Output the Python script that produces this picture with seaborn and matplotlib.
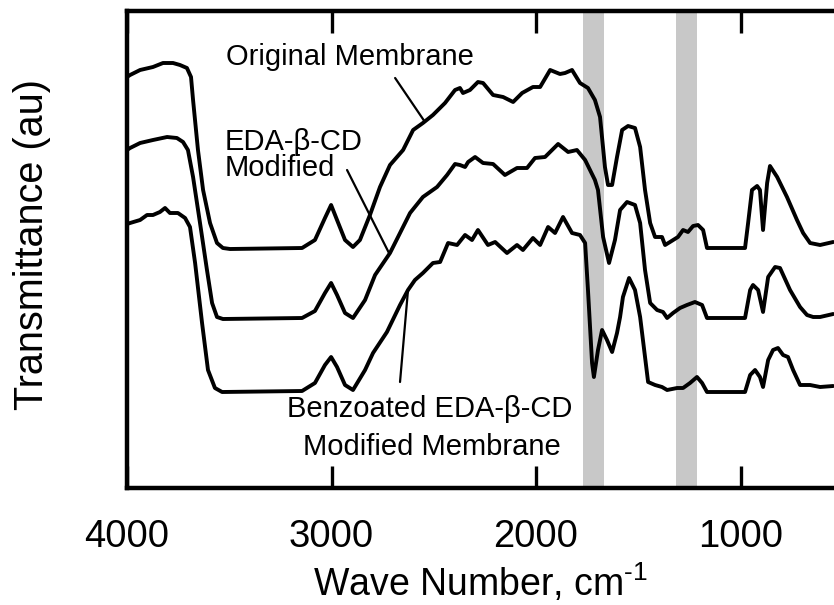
import matplotlib
matplotlib.use("Agg")
import matplotlib.pyplot as plt
import seaborn as sns
import pandas as pd

# ---------------- data ----------------
wn_original = [4000, 3985, 3936, 3873, 3824, 3775, 3741, 3707, 3687, 3677, 3653, 3628, 3594, 3560,
               3531, 3496, 3144, 3081, 3032, 3002, 2973, 2934, 2895, 2861, 2812, 2763, 2714, 2650,
               2601, 2553, 2504, 2445, 2396, 2372, 2357, 2323, 2284, 2259, 2210, 2161, 2112, 2068,
               2015, 1980, 1931, 1883, 1858, 1824, 1785, 1746, 1712, 1687, 1663, 1648, 1628, 1604,
               1579, 1550, 1516, 1491, 1467, 1442, 1418, 1384, 1369, 1345, 1306, 1281, 1257, 1232,
               1208, 1183, 1164, 978, 963, 944, 919, 905, 890, 870, 856, 821, 773, 724, 694, 660,
               611, 547]
tr_original = [411, 413, 418, 421, 425, 425, 423, 420, 411, 388, 338, 298, 265, 245,
               240, 239, 240, 248, 270, 283, 268, 248, 241, 248, 273, 301, 323, 338,
               358, 365, 373, 385, 398, 400, 395, 398, 406, 405, 393, 391, 386, 395,
               401, 401, 418, 414, 415, 418, 405, 400, 388, 371, 321, 303, 303, 331,
               358, 362, 360, 341, 298, 265, 251, 251, 243, 246, 251, 258, 256, 262,
               263, 258, 240, 240, 265, 298, 302, 298, 258, 305, 322, 311, 291, 268, 255, 245,
               243, 246]

wn_eda = [4000, 3985, 3936, 3873, 3804, 3756, 3726, 3702, 3677, 3643, 3609, 3584, 3560, 3531,
          3144, 3081, 3032, 3002, 2973, 2934, 2895, 2836, 2787, 2714, 2665, 2616, 2553, 2484,
          2435, 2396, 2372, 2347, 2332, 2298, 2259, 2210, 2152, 2093, 2044, 2005, 1956, 1892,
          1843, 1800, 1760, 1736, 1712, 1697, 1672, 1643, 1614, 1589, 1555, 1516, 1491, 1467,
          1442, 1408, 1379, 1359, 1330, 1296, 1262, 1223, 1188, 1164, 978, 953, 939, 914, 890,
          865, 831, 807, 758, 709, 675, 645, 611, 547]
tr_eda = [338, 340, 345, 348, 351, 350, 346, 338, 311, 265, 218, 185, 171, 169,
          170, 177, 195, 205, 193, 175, 170, 188, 213, 235, 255, 275, 291, 301,
          313, 324, 323, 321, 326, 331, 325, 324, 313, 320, 320, 330, 331, 344,
          336, 338, 328, 318, 308, 298, 251, 225, 248, 278, 286, 283, 265, 218,
          185, 178, 176, 170, 175, 180, 183, 186, 183, 170, 170, 198, 203, 198, 176,
          211, 221, 220, 198, 181, 173, 171, 171, 174]

wn_benz = [4000, 3985, 3936, 3902, 3873, 3839, 3814, 3790, 3751, 3716, 3692, 3667, 3633, 3604,
           3570, 3535, 3144, 3081, 3032, 3002, 2973, 2934, 2895, 2836, 2797, 2729, 2665, 2626,
           2592, 2553, 2504, 2469, 2430, 2386, 2347, 2313, 2284, 2235, 2200, 2142, 2093, 2064,
           2015, 1980, 1941, 1907, 1868, 1824, 1785, 1760, 1746, 1726, 1717, 1697, 1677, 1653,
           1628, 1604, 1589, 1575, 1545, 1516, 1491, 1467, 1452, 1418, 1384, 1359, 1310, 1281,
           1247, 1213, 1188, 1164, 978, 953, 929, 905, 890, 865, 841, 817, 792, 768, 743, 709,
           660, 611, 547]
tr_benz = [264, 265, 268, 273, 273, 276, 280, 275, 275, 270, 261, 225, 165, 118,
           100, 96, 97, 105, 123, 131, 121, 103, 98, 118, 135, 156, 183, 198,
           208, 215, 225, 226, 245, 243, 253, 248, 258, 243, 246, 235, 243, 238,
           250, 243, 261, 255, 271, 255, 253, 245, 198, 125, 111, 138, 158, 148,
           136, 155, 171, 191, 210, 198, 171, 131, 106, 103, 101, 98, 100, 100,
           105, 111, 105, 96, 96, 113, 118, 111, 101, 128, 138, 140, 133, 131, 118, 103,
           103, 101, 102]

bands = [(1770, 1668), (1315, 1213)]
xticks = [4000, 3000, 2000, 1000]

# ---------------- style ----------------
sns.set_theme(style="white")
plt.rcParams["font.family"] = ["Liberation Sans", "DejaVu Sans"]
plt.rcParams["mathtext.fontset"] = "custom"
plt.rcParams["mathtext.rm"] = "Liberation Sans"
plt.rcParams["mathtext.it"] = "Liberation Sans"

fig = plt.figure(figsize=(8.34, 6.05), dpi=100)
ax = fig.add_axes([127 / 834, 1 - 488 / 605, 1 - 127 / 834, (488 - 11) / 605])

for lo, hi in bands:
    ax.axvspan(hi, lo, color="#c8c8c8", lw=0, zorder=0)

for wn, tr in [(wn_original, tr_original), (wn_eda, tr_eda), (wn_benz, tr_benz)]:
    df = pd.DataFrame({"wn": wn, "tr": tr})
    sns.lineplot(data=df, x="wn", y="tr", color="black", lw=2.8, sort=False,
                 estimator=None, ax=ax, zorder=3)
for line in ax.get_lines():
    line.set_solid_joinstyle("round")
    line.set_solid_capstyle("round")

ax.set_xlim(4000, 543)
ax.set_ylim(0, 477)
ax.set_xticks(xticks)
ax.set_xticklabels([str(t) for t in xticks])
ax.set_yticks([])
ax.tick_params(axis="x", direction="in", top=True, bottom=True, length=16, width=2.4,
               labelsize=27.5, pad=22, color="black", labelcolor="black")
for side in ["left", "bottom", "top"]:
    ax.spines[side].set_linewidth(3.2)
    ax.spines[side].set_color("black")
ax.spines["right"].set_visible(False)

ax.set_xlabel("Wave Number, cm$^{\u20101}$", fontsize=27, labelpad=5, color="black")
ax.set_ylabel("Transmittance (au)", fontsize=28.5, color="black")
ax.yaxis.set_label_coords(-0.108, 0.51)

# annotations
fs = 21
ax.text(2910, 431, "Original Membrane", fontsize=fs, ha="center", va="center", color="black")
ax.plot([2689, 2543], [410, 366], color="black", lw=1.6, zorder=4)

ax.text(3521, 346, "EDA-\u03b2-CD", fontsize=fs, ha="left", va="center", color="black")
ax.text(3521, 320, "Modified", fontsize=fs, ha="left", va="center", color="black")
ax.plot([2924, 2719], [318, 235], color="black", lw=1.6, zorder=4)

ax.text(2518, 79, "Benzoated EDA-\u03b2-CD", fontsize=fs, ha="center", va="center", color="black")
ax.text(2508, 41, "Modified Membrane", fontsize=fs, ha="center", va="center", color="black")
ax.plot([2665, 2626], [106, 198], color="black", lw=1.6, zorder=4)

fig.savefig("out.png", dpi=100)
